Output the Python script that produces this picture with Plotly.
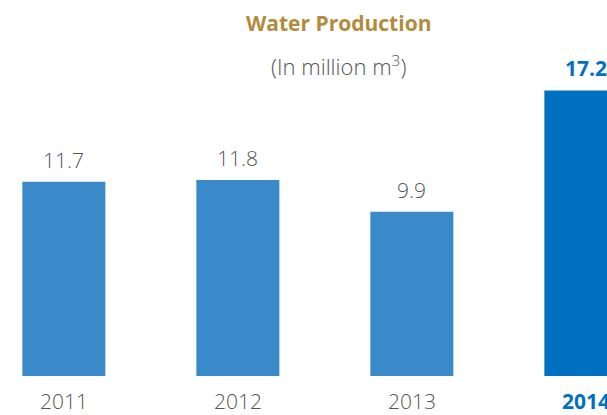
import plotly.graph_objects as go

years = ["2011", "2012", "2013", "2014"]
values = [11.7, 11.8, 9.9, 17.2]
highlight_year = "2014"

title_text = "Water Production"
subtitle_text = "(In million m<sup>3</sup>)"

BASE_COLOR = "#3A8AC9"
HL_COLOR = "#0070C0"
TEXT_GRAY = "#555555"
GOLD = "#B38B3C"

W, H = 607, 415
px_per_unit = 16.6
plot_h = 376
spacing = 174.0
first_center = 63.85

x_pos = list(range(len(years)))
colors = [HL_COLOR if y == highlight_year else BASE_COLOR for y in years]

fig = go.Figure()
fig.add_trace(go.Bar(
    x=x_pos, y=values, width=83 / spacing,
    marker=dict(color=colors, line=dict(width=0)),
    hoverinfo="skip",
))

annotations = []
for xp, yr, v, c in zip(x_pos, years, values, colors):
    hl = yr == highlight_year
    annotations.append(dict(
        x=xp, y=v, xref="x", yref="y", text=f"<b>{v}</b>" if hl else f"{v}",
        showarrow=False, yanchor="bottom", yshift=6,
        font=dict(family="Open Sans", size=21, color=HL_COLOR if hl else TEXT_GRAY,
                  weight=700 if hl else 300),
    ))
    annotations.append(dict(
        x=xp, y=0, xref="x", yref="y", text=f"<b>{yr}</b>" if hl else yr,
        showarrow=False, yanchor="top", yshift=-9,
        font=dict(family="Open Sans", size=21, color=HL_COLOR if hl else TEXT_GRAY,
                  weight=700 if hl else 300),
    ))

annotations.append(dict(
    x=338 / W, y=1 - 23 / plot_h, xref="paper", yref="paper", text=f"<b>{title_text}</b>",
    showarrow=False, xanchor="center", yanchor="middle",
    font=dict(family="Open Sans", size=21, color=GOLD),
))
annotations.append(dict(
    x=338 / W, y=1 - 65 / plot_h, xref="paper", yref="paper", text=subtitle_text,
    showarrow=False, xanchor="center", yanchor="middle",
    font=dict(family="Open Sans", size=22, color=TEXT_GRAY, weight=300),
))

x0 = -first_center / spacing
x1 = (W - first_center) / spacing

fig.update_layout(
    width=W, height=H,
    margin=dict(l=0, r=0, t=0, b=H - plot_h, pad=0),
    paper_bgcolor="white", plot_bgcolor="white",
    showlegend=False,
    xaxis=dict(range=[x0, x1], visible=False, fixedrange=True),
    yaxis=dict(range=[0, plot_h / px_per_unit], visible=False, fixedrange=True),
    annotations=annotations,
)

fig.write_html("out.html", config={"displayModeBar": False})
